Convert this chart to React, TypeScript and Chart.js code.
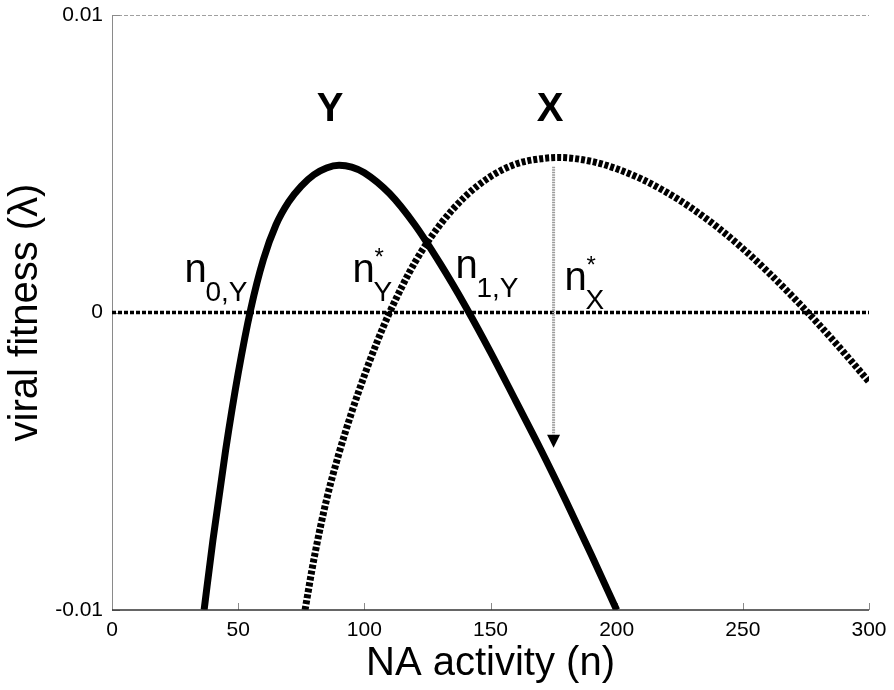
import React, { useEffect, useRef } from 'react';
import { Chart, registerables } from 'chart.js';

Chart.register(...registerables);

// ---- data ----
const strainYActivity = [36.5, 40, 45, 50, 55, 60, 65, 70, 75, 80, 85, 90, 95, 100, 110, 120, 130, 140, 150, 160, 170, 180, 190, 200];
const strainYFitness = [-0.01, -0.00765, -0.00465, -0.00205, 0.00012, 0.00178, 0.00295, 0.00372, 0.00425, 0.00463, 0.00486, 0.00495, 0.00489, 0.0047, 0.004, 0.00295, 0.00165, 0.00022, -0.00133, -0.00297, -0.00462, -0.00635, -0.00815, -0.01];

const strainXActivity = [76.5, 80, 85, 90, 95, 100, 105, 110, 120, 130, 140, 150, 160, 170, 177, 190, 200, 210, 220, 230, 240, 250, 260, 270, 280, 290, 300];
const strainXFitness = [-0.01, -0.0083, -0.0063, -0.00472, -0.00335, -0.00212, -0.001, 0, 0.00168, 0.00295, 0.0039, 0.00457, 0.00499, 0.00517, 0.00521, 0.00508, 0.00483, 0.00448, 0.00403, 0.00349, 0.00286, 0.00215, 0.00136, 0.00051, -0.00039, -0.00134, -0.00233];

const zeroLineActivity = [0, 300];
const zeroLineFitness = [0, 0];

const arrowActivity = 175;
const arrowStartFitness = 0.0049;
const arrowShaftEndFitness = -0.0041;
const arrowTipFitness = -0.00455;

const yTickValues = [-0.01, 0, 0.01];
const yTickLabels = ['-0.01', '0', '0.01'];
const X_MIN = 0;
const X_MAX = 300;
const X_STEP = 50;

const curveNames = ['Y', 'X'];
const curveNameActivity = [86.4, 173.6];
const curveNameFitness = [0.00644, 0.00644];

const symbolSubs = ['0,Y', 'Y', '1,Y', 'X'];
const symbolSups = ['', '*', '', '*'];
const symbolActivity = [28.7, 95.3, 136.1, 179.3];
const symbolFitness = [0.00103, 0.00103, 0.00116, 0.00076];

const FONT = '"Liberation Sans", Arial, Helvetica, sans-serif';

const toPoints = (xs: number[], ys: number[]) => xs.map((v, i) => ({ x: v, y: ys[i] }));

const decorPlugin = {
  id: 'decor',
  beforeDatasetsDraw(chart: any) {
    const { ctx, chartArea: a, scales } = chart;
    const x = scales.x;
    const y = scales.y;
    ctx.save();
    const yt = Math.round(y.getPixelForValue(yTickValues[2])) + 0.5;
    ctx.strokeStyle = '#a0a0a0';
    ctx.lineWidth = 1;
    ctx.setLineDash([4, 2]);
    ctx.beginPath();
    ctx.moveTo(a.left, yt);
    ctx.lineTo(a.right, yt);
    ctx.stroke();
    ctx.setLineDash([]);
    ctx.strokeStyle = '#8a8a8a';
    ctx.beginPath();
    ctx.moveTo(Math.round(a.left) + 0.5, a.top);
    ctx.lineTo(Math.round(a.left) + 0.5, a.bottom);
    ctx.stroke();
    x.ticks.forEach((t: any) => {
      const px = Math.round(x.getPixelForValue(t.value)) + 0.5;
      ctx.beginPath();
      ctx.moveTo(px, a.bottom);
      ctx.lineTo(px, a.bottom - 7);
      ctx.stroke();
    });
    yTickValues.forEach((v) => {
      const py = Math.round(y.getPixelForValue(v)) + 0.5;
      ctx.beginPath();
      ctx.moveTo(a.left, py);
      ctx.lineTo(a.left + 8, py);
      ctx.stroke();
    });
    ctx.restore();
  },
  afterDatasetsDraw(chart: any) {
    const { ctx, chartArea: a, scales } = chart;
    const x = scales.x;
    const y = scales.y;
    ctx.save();
    ctx.strokeStyle = '#333';
    ctx.lineWidth = 1.5;
    ctx.beginPath();
    ctx.moveTo(a.left, a.bottom);
    ctx.lineTo(a.right, a.bottom);
    ctx.stroke();
    const ax = x.getPixelForValue(arrowActivity);
    const tip = y.getPixelForValue(arrowTipFitness);
    ctx.fillStyle = '#000';
    ctx.beginPath();
    ctx.moveTo(ax, tip);
    ctx.lineTo(ax - 6.5, tip - 13);
    ctx.lineTo(ax + 6.5, tip - 13);
    ctx.closePath();
    ctx.fill();
    ctx.textAlign = 'center';
    ctx.textBaseline = 'alphabetic';
    ctx.font = 'bold 40px ' + FONT;
    curveNames.forEach((name, i) => {
      ctx.fillText(name, x.getPixelForValue(curveNameActivity[i]), y.getPixelForValue(curveNameFitness[i]));
    });
    ctx.textAlign = 'left';
    symbolSubs.forEach((sub, i) => {
      const px = x.getPixelForValue(symbolActivity[i]);
      const py = y.getPixelForValue(symbolFitness[i]);
      ctx.font = '40px ' + FONT;
      ctx.fillText('n', px, py);
      ctx.font = '28px ' + FONT;
      ctx.fillText(sub, px + 21, py + 19);
      if (symbolSups[i]) {
        ctx.font = '24px ' + FONT;
        ctx.fillText(symbolSups[i], px + 22, py - 17);
      }
    });
    ctx.restore();
  },
};

export default function App() {
  const ref = useRef<HTMLCanvasElement | null>(null);

  useEffect(() => {
    if (!ref.current) return;
    const chart = new Chart(ref.current, {
      type: 'line',
      data: {
        datasets: [
          {
            label: 'Y',
            data: toPoints(strainYActivity, strainYFitness),
            borderColor: '#000',
            borderWidth: 7,
            pointRadius: 0,
            cubicInterpolationMode: 'monotone',
            clip: 0,
            order: 1,
          } as any,
          {
            label: 'X',
            data: toPoints(strainXActivity, strainXFitness),
            borderColor: '#000',
            borderWidth: 7,
            borderDash: [4, 2],
            borderCapStyle: 'butt',
            pointRadius: 0,
            cubicInterpolationMode: 'monotone',
            clip: 0,
            order: 2,
          } as any,
          {
            label: 'zero',
            data: toPoints(zeroLineActivity, zeroLineFitness),
            borderColor: '#000',
            borderWidth: 3.5,
            borderDash: [4, 2],
            pointRadius: 0,
            clip: 0,
            order: 4,
          } as any,
          {
            label: 'arrow',
            data: [
              { x: arrowActivity, y: arrowStartFitness },
              { x: arrowActivity, y: arrowShaftEndFitness },
            ],
            borderColor: '#9a9a9a',
            borderWidth: 3,
            borderDash: [1.5, 1],
            pointRadius: 0,
            clip: 0,
            order: 3,
          } as any,
        ],
      },
      options: {
        responsive: false,
        animation: false,
        devicePixelRatio: 1,
        layout: { padding: { left: 0, top: 15, right: 25, bottom: 0 } },
        plugins: { legend: { display: false }, tooltip: { enabled: false } },
        scales: {
          x: {
            type: 'linear',
            min: X_MIN,
            max: X_MAX,
            grid: { display: false, drawTicks: false },
            border: { display: false },
            ticks: {
              stepSize: X_STEP,
              padding: 8,
              color: '#000',
              font: { family: FONT, size: 21 },
              maxRotation: 0,
            },
            title: {
              display: true,
              text: 'NA activity (n)',
              color: '#000',
              font: { family: FONT, size: 40 },
              padding: { top: 0, bottom: 2 },
            },
            afterFit: (s: any) => {
              s.height = 80;
              s.paddingLeft = 0;
              s.paddingRight = 0;
            },
          },
          y: {
            type: 'linear',
            min: yTickValues[0],
            max: yTickValues[2],
            grid: { display: false, drawTicks: false },
            border: { display: false },
            afterBuildTicks: (s: any) => {
              s.ticks = yTickValues.map((v) => ({ value: v }));
            },
            ticks: {
              padding: 9,
              color: '#000',
              font: { family: FONT, size: 21 },
              callback: (_v: any, i: number) => yTickLabels[i],
            },
            title: {
              display: true,
              text: 'viral fitness (λ)',
              color: '#000',
              font: { family: FONT, size: 40 },
              padding: { top: 2, bottom: 0 },
            },
            afterFit: (s: any) => {
              s.width = 112;
              s.paddingTop = 0;
              s.paddingBottom = 0;
            },
          },
        },
      },
      plugins: [decorPlugin],
    });
    return () => chart.destroy();
  }, []);

  return (
    <div style={{ position: 'fixed', left: 0, top: 0, width: 894, height: 690, background: '#fff' }}>
      <canvas ref={ref} width={894} height={690} style={{ display: 'block' }} />
    </div>
  );
}
